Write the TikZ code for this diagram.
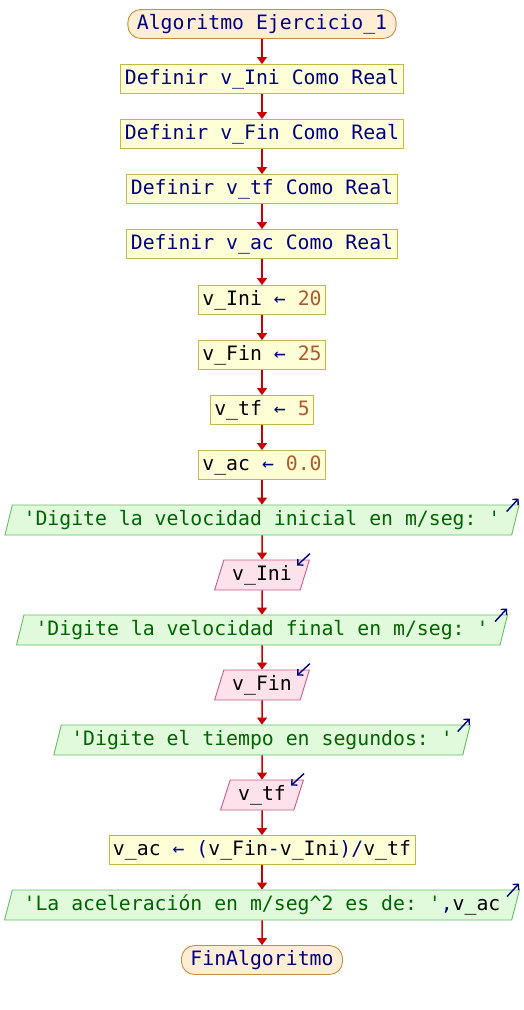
\documentclass[tikz,border=0pt]{standalone}
\usepackage{fontspec}
\setmonofont{DejaVu Sans Mono}
\usetikzlibrary{arrows.meta,shapes.geometric,calc}
\definecolor{kwnavy}{RGB}{0,0,128}
\definecolor{numbrown}{RGB}{175,90,40}
\definecolor{strgreen}{RGB}{0,100,0}
\definecolor{flowred}{RGB}{200,0,0}
\definecolor{termfill}{RGB}{255,238,212}
\definecolor{termline}{RGB}{200,140,60}
\definecolor{procfill}{RGB}{255,255,215}
\definecolor{procline}{RGB}{195,185,70}
\definecolor{outfill}{RGB}{225,250,220}
\definecolor{outline}{RGB}{100,190,100}
\definecolor{infill}{RGB}{253,225,235}
\definecolor{inline}{RGB}{200,90,140}
\newcommand{\kwd}[1]{\textcolor{kwnavy}{#1}}
\newcommand{\numv}[1]{\textcolor{numbrown}{#1}}
\newcommand{\strv}[1]{\textcolor{strgreen}{#1}}
\tikzset{
  base/.style={draw,minimum height=29pt,inner xsep=4pt,inner ysep=0pt,line width=0.9pt,
    font=\ttfamily\fontsize{19.8}{22}\selectfont,text=black},
  termblk/.style={base,rounded corners=13pt,inner xsep=9pt,fill=termfill,draw=termline},
  procblk/.style={base,fill=procfill,draw=procline},
  iobase/.style={base,trapezium,trapezium left angle=70,trapezium right angle=110,
    trapezium stretches=true,minimum height=30pt,inner xsep=0pt},
  outblk/.style={iobase,fill=outfill,draw=outline},
  inblk/.style={iobase,fill=infill,draw=inline},
  flow/.style={-{Triangle[length=7pt,width=10pt]},flowred,line width=1.5pt},
  iotip/.style={-{Straight Barb[length=4pt,width=8pt]},kwnavy,line width=1.4pt}
}
\begin{document}
\begin{tikzpicture}[x=1pt,y=1pt]
  \useasboundingbox (0,0) rectangle (524,-1010);
  % Start and declarations
  \node[termblk] (start) at (262,-24) {\kwd{Algoritmo Ejercicio\_1}};
  \node[procblk] (def1) at (262,-79) {\kwd{Definir v\_Ini Como Real}};
  \node[procblk] (def2) at (262,-134) {\kwd{Definir v\_Fin Como Real}};
  \node[procblk] (def3) at (262,-189) {\kwd{Definir v\_tf Como Real}};
  \node[procblk] (def4) at (262,-244) {\kwd{Definir v\_ac Como Real}};

  % Assignments
  \node[procblk] (asg1) at (262,-300) {v\_Ini \kwd{←} \numv{20}};
  \node[procblk] (asg2) at (262,-355) {v\_Fin \kwd{←} \numv{25}};
  \node[procblk] (asg3) at (262,-410) {v\_tf \kwd{←} \numv{5}};
  \node[procblk] (asg4) at (262,-465) {v\_ac \kwd{←} \numv{0.0}};

  % Input / output
  \node[outblk,minimum width=516pt] (out1) at (262,-520) {\strv{'Digite la velocidad inicial en m/seg: '}};
  \node[inblk,minimum width=95pt] (in1) at (262,-575) {v\_Ini};
  \node[outblk,minimum width=492pt] (out2) at (262,-630) {\strv{'Digite la velocidad final en m/seg: '}};
  \node[inblk,minimum width=95pt] (in2) at (262,-685) {v\_Fin};
  \node[outblk,minimum width=418pt] (out3) at (262,-740) {\strv{'Digite el tiempo en segundos: '}};
  \node[inblk,minimum width=83pt] (in3) at (262,-795) {v\_tf};

  % Result and end
  \node[procblk] (calc) at (262,-850) {v\_ac \kwd{←} \kwd{(}v\_Fin\kwd{-}v\_Ini\kwd{)/}v\_tf};
  \node[outblk,minimum width=516pt] (out4) at (262,-905) {\strv{'La aceleración en m/seg\^{}2 es de: '}\kwd{,}v\_ac};
  \node[termblk] (stop) at (262,-960) {\kwd{FinAlgoritmo}};

  % Flow arrows
  \foreach \a/\b in {start/def1,def1/def2,def2/def3,def3/def4,def4/asg1,asg1/asg2,asg2/asg3,asg3/asg4,
    asg4/out1,out1/in1,in1/out2,out2/in2,in2/out3,out3/in3,in3/calc,calc/out4,out4/stop}
    \draw[flow] (\a) -- (\b);

  % Small I/O marks
  \foreach \o in {out1,out2,out3,out4}
    \draw[iotip] ($(\o.top right corner)+(-13,-7)$) -- ($(\o.top right corner)+(-1,6)$);
  \foreach \i in {in1,in2,in3}
    \draw[iotip] ($(\i.top right corner)+(0,6)$) -- ($(\i.top right corner)+(-13,-6)$);
\end{tikzpicture}
\end{document}
